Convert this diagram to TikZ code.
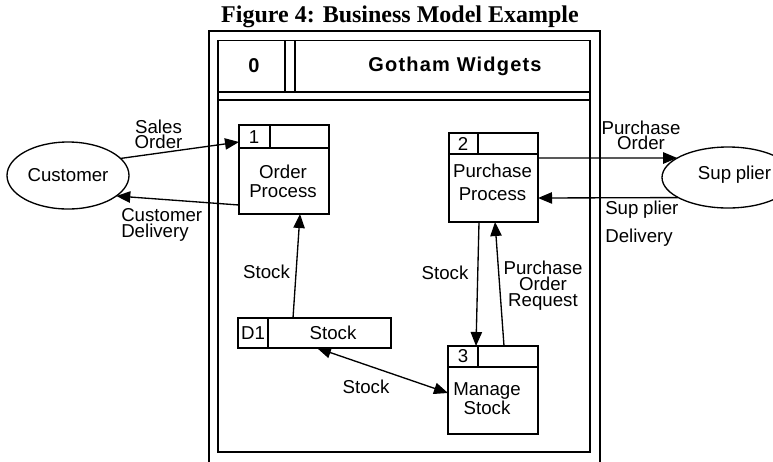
\documentclass[tikz,border=0pt]{standalone}
\usepackage{fontspec}
\setmainfont{Liberation Sans}
\newfontfamily\titlefont{Liberation Serif}
\usetikzlibrary{arrows.meta,calc,shapes.geometric}
\tikzset{
 frm/.style={line width=1pt},
 procbox/.style={draw, line width=1pt, rectangle, inner sep=0pt, outer sep=0pt},
 extent/.style={draw, line width=1pt, ellipse, inner sep=0pt, outer sep=0pt},
 lbl/.style={font=\fontsize{14}{11.5}\selectfont, inner sep=0pt, align=center},
 hdr/.style={font=\bfseries\fontsize{15}{17}\selectfont, inner sep=0pt},
 flow/.style={line width=1pt, -{Triangle[length=10.5pt,width=8.5pt]}},
 bflow/.style={line width=1pt, {Triangle[length=10.5pt,width=8.5pt]}-{Triangle[length=10.5pt,width=8.5pt]}},
}
\begin{document}
\begin{tikzpicture}[x=0.75pt,y=-0.75pt]
\clip (0,0) rectangle (773,461);
% title
\node[font=\titlefont\bfseries\fontsize{18}{20}\selectfont, anchor=base, inner sep=0pt] (title) at (400,22) {Figure 4: Business Model Example};
% outer frame
\coordinate (ofl) at (209,470);
\coordinate (ofr) at (600,470);
\draw[frm] (ofl) |- (400,31) -| (ofr);
% inner frame
\node[procbox, minimum width=279pt, minimum height=308.5pt] (ctx) at (404,246.35) {};
\draw[frm] ($(ctx.north west)+(0,51.3)$) -- ($(ctx.north east)+(0,51.3)$);
\draw[frm] ($(ctx.north west)+(0,59.3)$) -- ($(ctx.north east)+(0,59.3)$);
\draw[frm] ($(ctx.north west)+(67,0)$) -- ++(0,51.3);
\draw[frm] ($(ctx.north west)+(77,0)$) -- ++(0,51.3);
\node[hdr] (hnum) at (254,66) {0};
\node[hdr, font=\bfseries\fontsize{15}{17}\selectfont\addfontfeature{LetterSpace=6}] (hname) at (455,66) {Gotham Widgets};
% external entities
\node[extent, minimum width=91.5pt, minimum height=50.25pt, font=\fontsize{14}{16}\selectfont] (cust) at (68,175.5) {Customer};
\node[extent, minimum width=99pt, minimum height=45.75pt] (sup) at (728,177.5) {};
\node[lbl] (suptxt) at (734.5,175) {Sup\kern3.5pt plier};
% process 1
\node[procbox, minimum width=67.5pt, minimum height=66.75pt] (p1) at (284,169.5) {};
\draw[frm] ($(p1.north west)+(0,23)$) -- ($(p1.north east)+(0,23)$);
\draw[frm] ($(p1.north west)+(31,0)$) -- ++(0,23);
\node[lbl] (p1n) at (254,137) {1};
\node[lbl] (p1t) at (283,181) {Order\\[2.75pt]Process};
% process 2
\node[procbox, minimum width=66.75pt, minimum height=66.75pt] (p2) at (493.5,177.5) {};
\draw[frm] ($(p2.north west)+(0,21)$) -- ($(p2.north east)+(0,21)$);
\draw[frm] ($(p2.north west)+(29,0)$) -- ++(0,21);
\node[lbl] (p2n) at (463,143.5) {2};
\node[lbl] (p2t) at (492.5,182.5) {Purchase\\[5.75pt]Process};
% process 3
\node[procbox, minimum width=67.5pt, minimum height=66pt] (p3) at (493,390) {};
\draw[frm] ($(p3.north west)+(0,21)$) -- ($(p3.north east)+(0,21)$);
\draw[frm] ($(p3.north west)+(30,0)$) -- ++(0,21);
\node[lbl] (p3n) at (463,356.5) {3};
\node[lbl] (p3t) at (487,398.5) {Manage\\Stock};
% data store
\node[procbox, minimum width=114.75pt, minimum height=22.5pt] (d1) at (314.5,333) {};
\draw[frm] ($(d1.north west)+(30,0)$) -- ($(d1.south west)+(30,0)$);
\node[lbl] (d1n) at (253,333) {D1};
\node[lbl] (d1t) at (333,333) {Stock};
% flows
\draw[flow] (cust.18) -- ($(p1.north west)+(0,17)$);
\draw[flow] ($(p1.south west)+(0,-9)$) -- (cust.-23);
\draw[flow] ($(d1.north west)+(55,0)$) -- ($(p1.south west)+(61,0)$);
\draw[flow] ($(p2.south west)+(30,0)$) -- ($(p3.north west)+(28,0)$);
\draw[flow] ($(p3.north west)+(56,0)$) -- ($(p2.south west)+(46,0)$);
\draw[bflow] ($(d1.south west)+(79,0)$) -- ($(p3.north west)+(0,47)$);
\draw[flow] ($(p2.east)+(0,-19.5)$) -- (sup.159);
\draw[flow] (sup.202.75) -- ($(p2.east)+(0,20.5)$);
% flow labels
\node[lbl] (l1) at (158.5,134) {Sales\\[0pt]Order};
\node[lbl, align=left, anchor=west] (l2) at (121,225) {Customer\\Delivery};
\node[lbl] (l3) at (266.5,272) {Stock};
\node[lbl] (l4) at (445,273) {Stock};
\node[lbl] (l5) at (543,286) {Purchase\\[0.5pt]Order\\[0.5pt]Request};
\node[lbl] (l6) at (366,387) {Stock};
\node[lbl] (l7) at (641,135.5) {Purchase\\Order};
\node[lbl, align=left, anchor=west] (l8) at (605,224) {Sup\kern3.5pt plier\\[7pt]Delivery};
\end{tikzpicture}
\end{document}
